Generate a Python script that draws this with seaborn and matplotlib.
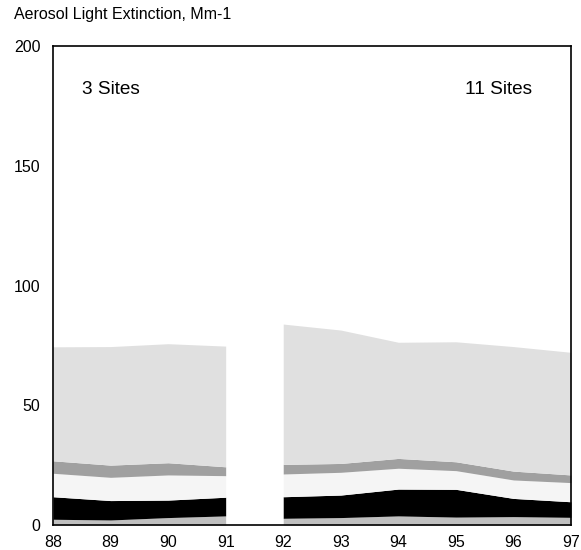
import matplotlib
matplotlib.use("Agg")
import matplotlib.pyplot as plt
import seaborn as sns

# Years in each monitoring period (no data for 1991-92 transition)
years_early = [88, 89, 90, 91]
years_late = [92, 93, 94, 95, 96, 97]

# Extinction components, Mm-1, stacked bottom to top
band1_early = [2.4, 2.1, 3.1, 3.8]
band2_early = [9.4, 8.1, 7.3, 7.8]
band3_early = [9.8, 9.7, 10.5, 9.0]
band4_early = [5.2, 5.1, 5.1, 3.7]
band5_early = [47.6, 49.5, 49.7, 50.4]

band1_late = [2.8, 3.1, 3.8, 3.3, 3.5, 3.2]
band2_late = [9.0, 9.4, 11.2, 11.6, 7.6, 6.5]
band3_late = [9.5, 9.5, 8.7, 7.8, 7.7, 8.0]
band4_late = [4.0, 3.7, 4.1, 3.7, 3.7, 3.2]
band5_late = [58.6, 55.7, 48.5, 50.1, 52.0, 51.2]

band_colors = ["#c0c0c0", "#000000", "#f5f5f5", "#a0a0a0", "#e0e0e0"]

x_ticks = [88, 89, 90, 91, 92, 93, 94, 95, 96, 97]
y_ticks = [0, 50, 100, 150, 200]

sns.set_theme(style="white")
plt.rcParams["font.family"] = ["Liberation Sans", "DejaVu Sans"]
plt.rcParams["text.color"] = "black"

fig = plt.figure(figsize=(5.81, 5.50), dpi=100)
ax = fig.add_axes([53 / 581, 25 / 550, 518 / 581, 479 / 550])

ax.stackplot(years_early, band1_early, band2_early, band3_early, band4_early,
             band5_early, colors=band_colors, linewidth=0)
ax.stackplot(years_late, band1_late, band2_late, band3_late, band4_late,
             band5_late, colors=band_colors, linewidth=0)

ax.set_xlim(88, 97)
ax.set_ylim(0, 200)
ax.set_xticks(x_ticks)
ax.set_yticks(y_ticks)
ax.tick_params(axis="both", length=0, labelsize=11.5, colors="black")
ax.tick_params(axis="x", pad=7)
ax.tick_params(axis="y", pad=9)
for s in ax.spines.values():
    s.set_color("black")
    s.set_linewidth(1.2)

ax.text(88.5, 182, "3 Sites", fontsize=13.7, color="black",
        ha="left", va="center")
ax.text(96.33, 182, "11 Sites", fontsize=13.7, color="black",
        ha="right", va="center")

fig.text(14 / 581, 1 - 15 / 550, "Aerosol Light Extinction, Mm-1",
         fontsize=11.5, color="black", ha="left", va="center")

fig.savefig("out.png", dpi=100)
